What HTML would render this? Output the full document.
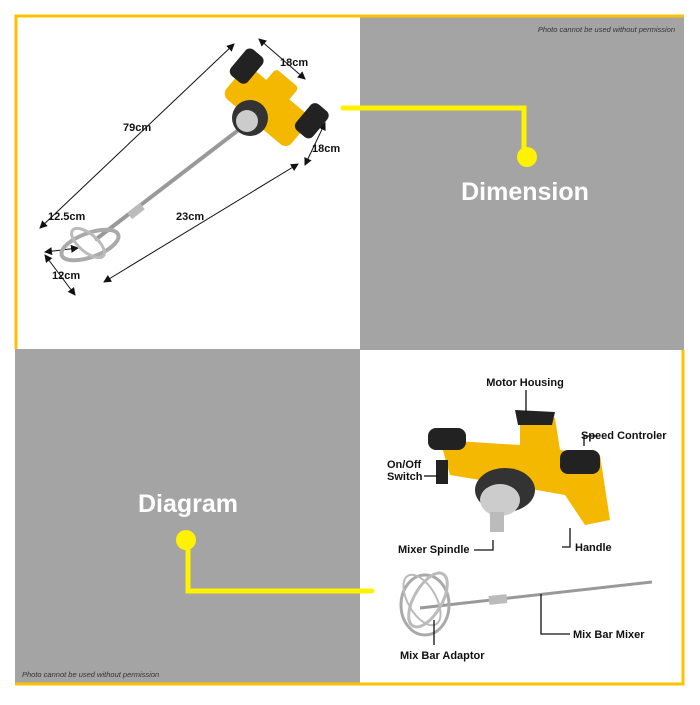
<!DOCTYPE html>
<html><head><style>
body{margin:0;width:700px;height:700px;background:#fff;overflow:hidden}
svg text{font-family:"Liberation Sans",sans-serif}
</style></head><body>
<svg width="700" height="700" viewBox="0 0 700 700" xmlns="http://www.w3.org/2000/svg">
<defs>
<marker id="a" markerWidth="8" markerHeight="8" refX="7" refY="4" orient="auto-start-reverse"><path d="M0,0 L8,4 L0,8 z" fill="#111"/></marker>
</defs>
<rect x="360" y="17" width="324" height="333" fill="#a5a4a5"/>
<rect x="15" y="349" width="345" height="334" fill="#a5a4a5"/>
<path d="M16,349 V16 H684" stroke="#fcc200" stroke-width="3" fill="none"/>
<path d="M683,350 V684 H15" stroke="#fcc200" stroke-width="3" fill="none"/>
<text x="675" y="32" font-size="7.5" font-style="italic" fill="#333" text-anchor="end">Photo cannot be used without permission</text>
<text x="22" y="677" font-size="7.5" font-style="italic" fill="#333">Photo cannot be used without permission</text>
<path d="M343,108 H524 V157" stroke="#fff200" stroke-width="5" fill="none" stroke-linecap="round"/>
<circle cx="527" cy="157" r="10" fill="#fff200"/>
<text x="525" y="200" font-size="25" font-weight="bold" fill="#fff" text-anchor="middle">Dimension</text>
<path d="M188,540 V591 H372" stroke="#fff200" stroke-width="5" fill="none" stroke-linecap="round"/>
<circle cx="186" cy="540" r="10" fill="#fff200"/>
<text x="188" y="512" font-size="25" font-weight="bold" fill="#fff" text-anchor="middle">Diagram</text>
<g stroke="#111" stroke-width="1" fill="none" marker-start="url(#a)" marker-end="url(#a)">
<line x1="40" y1="228" x2="234" y2="44"/>
<line x1="259" y1="39" x2="305" y2="79"/>
<line x1="325" y1="123" x2="305" y2="165"/>
<line x1="104" y1="282" x2="298" y2="164"/>
<line x1="45" y1="252" x2="78" y2="248"/>
<line x1="45" y1="255" x2="75" y2="295"/>
</g>
<g font-size="11" font-weight="bold" fill="#111">
<text x="280" y="66">18cm</text>
<text x="123" y="131">79cm</text>
<text x="312" y="152">18cm</text>
<text x="48" y="220">12.5cm</text>
<text x="176" y="220">23cm</text>
<text x="52" y="279">12cm</text>
</g>
<line x1="95" y1="240" x2="245" y2="125" stroke="#999" stroke-width="4"/>
<rect x="128" y="207" width="16" height="8" fill="#bbb" transform="rotate(-38 136 211)"/>
<ellipse cx="90" cy="245" rx="30" ry="12" fill="none" stroke="#aaa" stroke-width="4" transform="rotate(-20 90 245)"/>
<ellipse cx="88" cy="243" rx="20" ry="9" fill="none" stroke="#bbb" stroke-width="3" transform="rotate(40 88 243)"/>
<g transform="rotate(40 265 105)">
<rect x="225" y="85" width="85" height="40" rx="8" fill="#f5b800"/>
<rect x="215" y="70" width="22" height="34" rx="6" fill="#222"/>
<rect x="300" y="70" width="22" height="34" rx="6" fill="#222"/>
<rect x="250" y="70" width="30" height="20" rx="4" fill="#f5b800"/>
</g>
<circle cx="250" cy="118" r="18" fill="#333"/>
<circle cx="247" cy="121" r="11" fill="#ccc"/>
<g>
<path d="M440,440 L520,445 L520,418 L555,418 L560,450 L600,455 L610,520 L585,525 L565,495 L480,480 L450,475 Z" fill="#f5b800"/>
<rect x="428" y="428" width="38" height="22" rx="8" fill="#222"/>
<rect x="560" y="450" width="40" height="24" rx="8" fill="#222"/>
<path d="M515,410 L555,412 L552,425 L518,425 Z" fill="#222"/>
<ellipse cx="505" cy="490" rx="30" ry="22" fill="#333"/>
<ellipse cx="500" cy="500" rx="20" ry="16" fill="#ccc"/>
<rect x="490" y="512" width="14" height="20" fill="#bbb"/>
<rect x="436" y="460" width="12" height="24" fill="#222"/>
</g>
<line x1="420" y1="608" x2="652" y2="582" stroke="#999" stroke-width="3"/>
<rect x="489" y="595" width="18" height="9" fill="#bbb" transform="rotate(-6 498 600)"/>
<ellipse cx="425" cy="605" rx="24" ry="30" fill="none" stroke="#aaa" stroke-width="3"/>
<ellipse cx="428" cy="600" rx="14" ry="30" fill="none" stroke="#bbb" stroke-width="3" transform="rotate(30 428 600)"/>
<ellipse cx="422" cy="600" rx="14" ry="28" fill="none" stroke="#bbb" stroke-width="2" transform="rotate(-30 422 600)"/>
<g stroke="#111" stroke-width="1.3" fill="none">
<line x1="526" y1="390" x2="526" y2="412"/>
<path d="M598,436 H584 V446"/>
<line x1="424" y1="476" x2="438" y2="476"/>
<path d="M562,547 H570 V528"/>
<path d="M474,550 H493 V540"/>
<path d="M570,634 H541 V594"/>
<line x1="434" y1="645" x2="434" y2="620"/>
</g>
<g font-size="11" font-weight="bold" fill="#111">
<text x="525" y="386" text-anchor="middle">Motor Housing</text>
<text x="581" y="439">Speed Controler</text>
<text x="387" y="468">On/Off</text>
<text x="387" y="480">Switch</text>
<text x="575" y="551">Handle</text>
<text x="398" y="553">Mixer Spindle</text>
<text x="573" y="638">Mix Bar Mixer</text>
<text x="400" y="659">Mix Bar Adaptor</text>
</g>
</svg>
</body></html>
